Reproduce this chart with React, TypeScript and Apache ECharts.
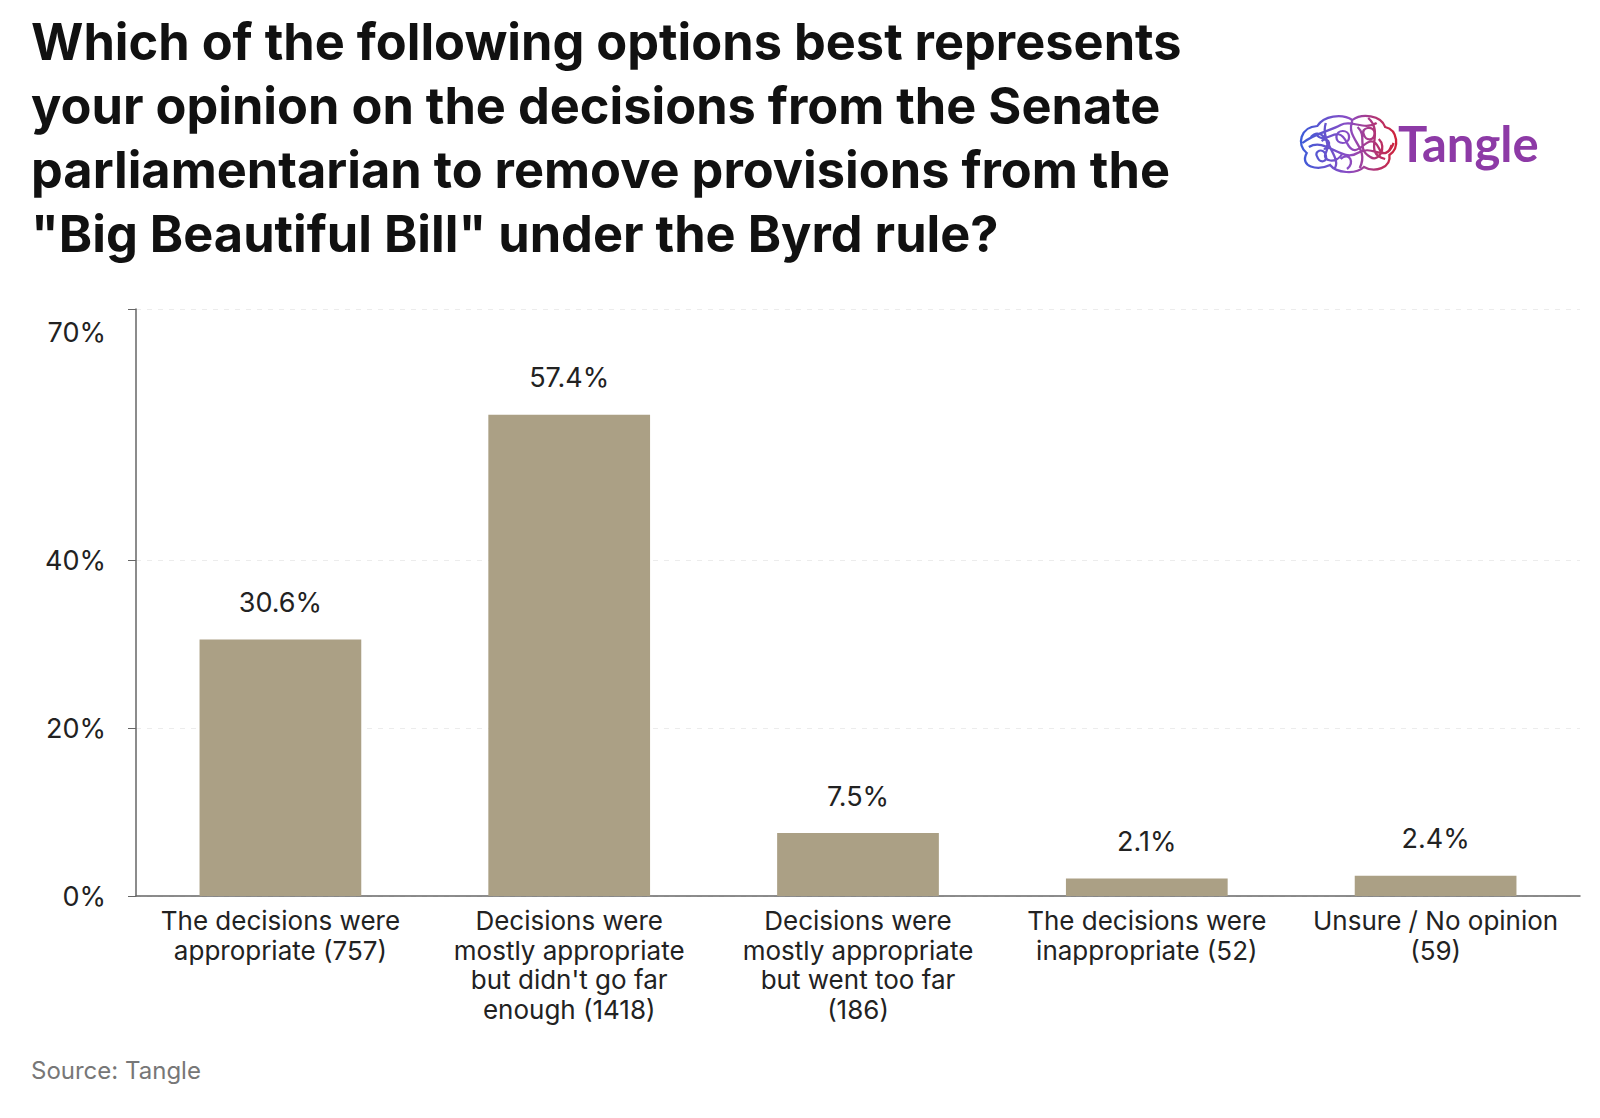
import React, { useEffect, useRef } from "react";
import * as echarts from "echarts";

const titleLines = [
  "Which of the following options best represents",
  "your opinion on the decisions from the Senate",
  "parliamentarian to remove provisions from the",
  "\"Big Beautiful Bill\" under the Byrd rule?",
];
const categories = [
  "The decisions were\nappropriate (757)",
  "Decisions were\nmostly appropriate\nbut didn't go far\nenough (1418)",
  "Decisions were\nmostly appropriate\nbut went too far\n(186)",
  "The decisions were\ninappropriate (52)",
  "Unsure / No opinion\n(59)",
];
const values = [30.6, 57.4, 7.5, 2.1, 2.4];
const yTicks = [0, 20, 40, 70];
const yMainLabels = [0, 20, 40];
const yTopLabel = [70];
const sourceText = "Source: Tangle";
const brandText = "Tangle";

const FONT = "Inter, 'Noto Sans', sans-serif";

const BRAIN_D =
  "M12,40 C2,32 6,14 22,13 C28,3 45,0 55,7 C64,0 82,2 86,14 C98,17 100,35 90,42 C92,55 76,60 66,54 C58,62 40,60 34,52 C22,58 5,54 12,40 Z " +
  "M20,20 C30,36 40,8 50,30 C60,52 70,14 80,35 C84,44 90,40 92,32 " +
  "M14,34 C30,24 45,50 60,40 C75,30 86,52 94,30 " +
  "M30,10 C24,30 46,44 38,56 " +
  "M55,8 C48,26 72,34 62,55 " +
  "M70,5 C86,20 64,40 86,46 " +
  "M40,24 C40,16 52,16 52,24 C52,32 40,32 40,24 Z " +
  "M22,44 C18,38 28,34 30,42 C32,50 24,50 22,44 Z " +
  "M66,22 C62,14 76,12 76,20 C76,28 68,28 66,22 Z " +
  "M8,30 C20,20 34,18 44,12 C54,6 66,18 78,10 " +
  "M44,46 C52,38 58,50 50,56 " +
  "M26,28 C34,22 36,36 28,36 " +
  "M16,24 C24,14 36,28 30,40 C26,48 40,52 46,40 " +
  "M60,14 C70,24 58,36 72,44 C80,50 88,34 80,26";

echarts.graphic.registerShape(
  "logo",
  echarts.graphic.extendPath(BRAIN_D, {}) as any
);

export default function App() {
  const ref = useRef<HTMLDivElement>(null);

  useEffect(() => {
    document.body.style.margin = "0";
    if (!ref.current) return;
    const chart = echarts.init(ref.current, undefined, { renderer: "svg" });

    const brainGrad = new echarts.graphic.LinearGradient(0, 0, 1, 0, [
      { offset: 0, color: "#3d5bd8" },
      { offset: 0.5, color: "#8b4cc4" },
      { offset: 1, color: "#cf2238" },
    ]);

    chart.setOption({
      animation: false,
      backgroundColor: "#ffffff",
      title: {
        text: titleLines.join("\n"),
        left: 31,
        top: 9,
        padding: 0,
        textStyle: {
          fontFamily: FONT,
          fontSize: 50.5,
          fontWeight: 700,
          lineHeight: 64,
          color: "#111111",
        },
      },
      grid: { left: 136, right: 20, top: 309, bottom: 222, containLabel: false },
      xAxis: {
        type: "category",
        data: categories,
        axisLine: { lineStyle: { color: "#666666", width: 1.5 } },
        axisTick: { alignWithLabel: true, length: 8, lineStyle: { color: "#666666" } },
        axisLabel: {
          interval: 0,
          margin: 10,
          fontFamily: FONT,
          fontSize: 26,
          lineHeight: 29.5,
          color: "#222222",
        },
      },
      yAxis: [
        {
          type: "value",
          min: 0,
          max: 70,
          interval: 10,
          axisLine: { show: true, lineStyle: { color: "#666666", width: 1.5 } },
          axisTick: {
            show: true,
            length: 8,
            customValues: yTicks,
            lineStyle: { color: "#666666" },
          },
          splitLine: {
            show: true,
            customValues: yTicks,
            lineStyle: { color: "#ececec", type: [5, 6], width: 1 },
          },
          axisLabel: {
            customValues: yMainLabels,
            formatter: (v: number) => `${v}%`,
            margin: 30,
            fontFamily: FONT,
            fontSize: 27,
            color: "#222222",
          },
        },
        {
          type: "value",
          min: 0,
          max: 70,
          interval: 10,
          position: "left",
          axisLine: { show: false },
          axisTick: { show: false },
          splitLine: { show: false },
          axisLabel: {
            customValues: yTopLabel,
            formatter: (v: number) => `${v}%`,
            margin: 30,
            verticalAlign: "top",
            padding: [10, 0, 0, 0],
            fontFamily: FONT,
            fontSize: 27,
            color: "#222222",
          },
        },
      ],
      series: [
        {
          type: "bar",
          data: values,
          barWidth: "56%",
          itemStyle: { color: "#aba085" },
          label: {
            show: true,
            position: "top",
            distance: 22,
            formatter: (p: any) => `${p.value}%`,
            fontFamily: FONT,
            fontSize: 27,
            lineHeight: 30,
            color: "#222222",
          },
        },
      ],
      graphic: [
        {
          type: "logo",
          x: 1294,
          y: 113,
          scaleX: 1.06,
          scaleY: 1.0,
          style: { fill: "none", stroke: brainGrad, lineWidth: 2.2 },
        },
        {
          type: "text",
          x: 1398,
          y: 143,
          style: {
            text: brandText,
            fontFamily: "Lato, Inter, sans-serif",
            fontSize: 49,
            fontWeight: 700,
            fill: "#8d3aa6",
            verticalAlign: "middle",
            align: "left",
          },
        },
        {
          type: "text",
          x: 31,
          y: 1070,
          style: {
            text: sourceText,
            fontFamily: FONT,
            fontSize: 24,
            fill: "#777777",
            verticalAlign: "middle",
            align: "left",
          },
        },
      ],
    });

    return () => chart.dispose();
  }, []);

  return <div ref={ref} style={{ width: 1600, height: 1118 }} />;
}
